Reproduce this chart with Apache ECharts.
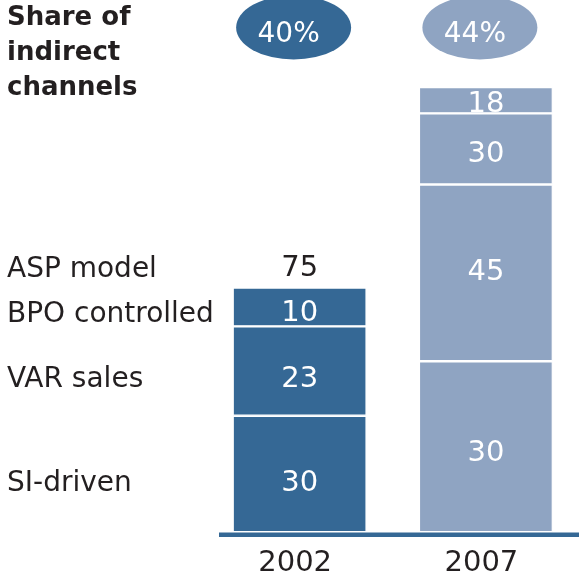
<!DOCTYPE html>
<html>
<head>
<meta charset="utf-8">
<script src="https://cdn.jsdelivr.net/npm/echarts@6/dist/echarts.min.js"></script>
<style>html,body{margin:0;padding:0;background:#fff}#c{width:579px;height:579px}</style>
</head>
<body>
<div id="c"></div>
<script>
// ---- data ----
var years = ['2002', '2007'];
var rowNames = ['SI-driven', 'VAR sales', 'BPO controlled', 'ASP model'];
// segment sizes (as drawn), bottom to top
var siDriven = [30, 44];
var varSales = [23, 45.5];
var bpoControlled = [10, 18.3];
var aspModel = [0, 6.8];
// printed labels of the segments
var siLabels = ['30', '30'];
var varLabels = ['23', '45'];
var bpoLabels = ['10', '30'];
var aspLabels = ['75', '18'];
// share of indirect channels
var shares = [40, 44];

// ---- styling ----
var DARK = '#356895', LIGHT = '#8fa4c2', TEXT = '#231f20';
var barColors = [DARK, LIGHT];
var FONT = 'DejaVu Sans';

var segValues = [siDriven, varSales, bpoControlled, aspModel];
var segLabels = [siLabels, varLabels, bpoLabels, aspLabels];
var labelDy = [[9, 7], [8, 0], [7, 6], [0, 4]];

var chart = echarts.init(document.getElementById('c'), null, {renderer: 'canvas'});

var series = segValues.map(function (vals, s) {
  return {
    name: rowNames[s],
    type: 'bar',
    stack: 'total',
    xAxisIndex: 0, yAxisIndex: 0,
    barWidth: 134,
    data: vals.map(function (v, i) {
      var item = {
        value: v,
        itemStyle: {color: barColors[i], borderColor: '#fff', borderWidth: v === 0 ? 0 : 1.2},
        label: {
          show: true,
          formatter: segLabels[s][i],
          position: 'inside',
          offset: [0, labelDy[s][i]],
          color: '#fff',
          fontSize: 29,
          fontFamily: FONT
        }
      };
      if (v === 0) {
        item.label.position = 'top';
        item.label.color = TEXT;
        item.label.distance = 5;
        item.label.offset = [0, 0];
      }
      return item;
    })
  };
});

series.push({
  type: 'scatter',
  xAxisIndex: 1, yAxisIndex: 1,
  symbol: 'circle',
  symbolSize: [115, 64],
  symbolOffset: [-6, 0],
  silent: true,
  clip: false,
  itemStyle: {opacity: 1},
  data: shares.map(function (v, i) {
    return {
      value: [i, 0.5],
      itemStyle: {color: barColors[i], opacity: 1},
      label: {
        show: true,
        position: 'inside',
        formatter: v + '%',
        color: '#fff',
        fontSize: 28,
        fontFamily: FONT,
        offset: [-5, 7]
      }
    };
  })
});

var rowLabelY = [483, 379, 314, 268.5];

chart.setOption({
  animation: false,
  backgroundColor: '#fff',
  title: {
    text: 'Share of\nindirect\nchannels',
    left: 7, top: 1, padding: 0,
    textStyle: {fontFamily: FONT, fontWeight: 'bold', fontSize: 26, lineHeight: 35, color: TEXT}
  },
  grid: [
    {left: 206.5, width: 374, top: 66, height: 466.3},
    {left: 206.5, width: 374, top: -9, height: 64}
  ],
  xAxis: [
    {
      type: 'category', data: years, gridIndex: 0,
      axisLine: {show: false}, axisTick: {show: false},
      axisLabel: {color: TEXT, fontSize: 29, fontFamily: FONT, margin: 17, padding: [0, 9, 0, 0]}
    },
    {type: 'category', data: years, gridIndex: 1, show: false}
  ],
  yAxis: [
    {type: 'value', min: 0, max: 120, gridIndex: 0, show: false, splitLine: {show: false}},
    {type: 'value', min: 0, max: 1, gridIndex: 1, show: false, splitLine: {show: false}}
  ],
  graphic: [
    {type: 'line', shape: {x1: 219, y1: 534.7, x2: 579, y2: 534.7}, style: {stroke: DARK, lineWidth: 4.5}, z: 10}
  ].concat(rowNames.map(function (n, i) {
    return {
      type: 'text', left: 7, top: rowLabelY[i] - 13,
      style: {text: n, font: '28px "' + FONT + '"', fill: TEXT}
    };
  })),
  series: series
});
</script>
</body>
</html>
